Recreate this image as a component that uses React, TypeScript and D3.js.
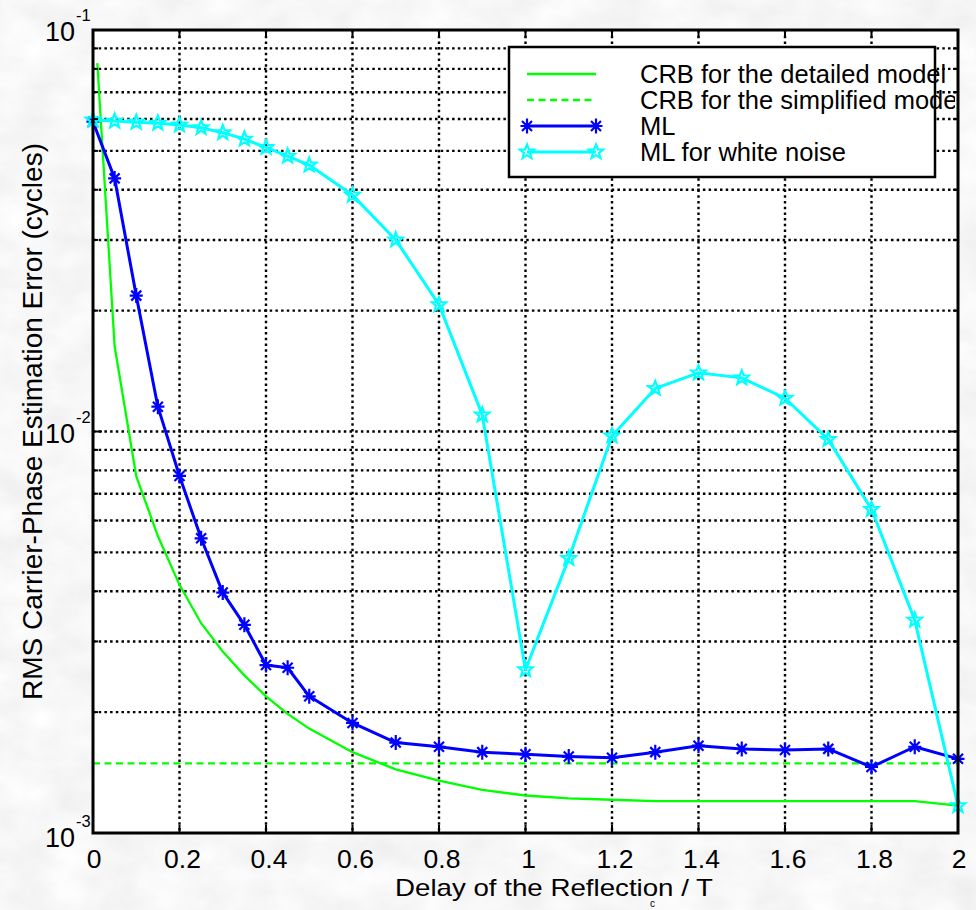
import React from "react";
import * as d3 from "d3";

// ---- data ----
const xGreen = [0.01, 0.05, 0.1, 0.15, 0.2, 0.25, 0.3, 0.35, 0.4, 0.45, 0.5, 0.6, 0.7, 0.8, 0.9, 1.0, 1.1, 1.2, 1.3, 1.4, 1.5, 1.6, 1.7, 1.8, 1.9, 2.0];
const crbDetailed = [0.0827, 0.0163, 0.00774, 0.00549, 0.00415, 0.00333, 0.00283, 0.00247, 0.00219, 0.00198, 0.00182, 0.00159, 0.00144, 0.00135, 0.00128, 0.00124, 0.00122, 0.00121, 0.0012, 0.0012, 0.0012, 0.0012, 0.0012, 0.0012, 0.0012, 0.00117];
const xSimplified = [0, 2];
const crbSimplified = [0.00149, 0.00149];
const xML = [0, 0.05, 0.1, 0.15, 0.2, 0.25, 0.3, 0.35, 0.4, 0.45, 0.5, 0.6, 0.7, 0.8, 0.9, 1.0, 1.1, 1.2, 1.3, 1.4, 1.5, 1.6, 1.7, 1.8, 1.9, 2.0];
const ml = [0.0591, 0.0427, 0.0218, 0.01153, 0.00775, 0.00542, 0.00397, 0.0033, 0.00262, 0.00258, 0.00219, 0.00188, 0.00168, 0.00164, 0.00159, 0.00157, 0.00155, 0.00154, 0.00159, 0.00165, 0.00162, 0.00161, 0.00162, 0.00146, 0.00164, 0.00153];
const mlWhite = [0.0597, 0.0593, 0.0589, 0.0586, 0.058, 0.0571, 0.0555, 0.0535, 0.051, 0.0485, 0.0461, 0.0388, 0.03, 0.0207, 0.011, 0.00255, 0.00483, 0.00975, 0.0128, 0.014, 0.0136, 0.0121, 0.00956, 0.0064, 0.00339, 0.00117];
const xTicks = [0, 0.2, 0.4, 0.6, 0.8, 1, 1.2, 1.4, 1.6, 1.8, 2];
const xTickLabels = ["0", "0.2", "0.4", "0.6", "0.8", "1", "1.2", "1.4", "1.6", "1.8", "2"];
const yDecades = [0.1, 0.01, 0.001];
const yExponents = ["-1", "-2", "-3"];
const legendLabels = [
  "CRB for the detailed model",
  "CRB for the simplified model",
  "ML",
  "ML for white noise",
];

const FONT = "'Liberation Sans', Arial, Helvetica, sans-serif";
const GREEN = "#00ff00";
const BLUE = "#0000ff";
const CYAN = "#00ffff";

const L = 93, R = 958, T = 30, B = 833;

const x = d3.scaleLinear().domain([0, 2]).range([L, R]);
const y = d3.scaleLog().domain([0.001, 0.1]).range([B, T]);

function starPath(cx: number, cy: number, ro = 7.5, ri = 3.2) {
  const pts: string[] = [];
  for (let i = 0; i < 10; i++) {
    const r = i % 2 === 0 ? ro : ri;
    const a = -Math.PI / 2 + (i * Math.PI) / 5;
    pts.push(`${(cx + r * Math.cos(a)).toFixed(2)},${(cy + r * Math.sin(a)).toFixed(2)}`);
  }
  return "M" + pts.join("L") + "Z";
}

function asteriskPath(cx: number, cy: number) {
  return `M${cx},${cy - 7.5}L${cx},${cy + 7.5}M${cx - 6.5},${cy}L${cx + 6.5},${cy}M${cx - 5},${cy - 5}L${cx + 5},${cy + 5}M${cx - 5},${cy + 5}L${cx + 5},${cy - 5}`;
}

export default function App() {
  const line = d3
    .line<[number, number]>()
    .x((d) => x(d[0]))
    .y((d) => y(d[1]));

  const greenPts = xGreen.map((v, i) => [v, crbDetailed[i]] as [number, number]);
  const simpPts = xSimplified.map((v, i) => [v, crbSimplified[i]] as [number, number]);
  const mlPts = xML.map((v, i) => [v, ml[i]] as [number, number]);
  const whitePts = xML.map((v, i) => [v, mlWhite[i]] as [number, number]);

  const yGrid: number[] = [];
  for (const dec of [0.001, 0.01]) {
    for (let k = 1; k <= 9; k++) {
      const v = dec * k;
      if (v > 0.001 && v < 0.1) yGrid.push(v);
    }
  }
  const yMinor: number[] = [];
  for (const dec of [0.001, 0.01]) {
    for (let k = 2; k <= 9; k++) yMinor.push(dec * k);
  }

  const dot = "2.5,3.2";
  const legRowBase = [83, 109, 135, 161];

  return (
    <svg
      width={976}
      height={910}
      style={{ position: "absolute", left: 0, top: 0, display: "block" }}
      fontFamily={FONT}
    >
      <defs>
        <filter id="marble" x="0" y="0" width="100%" height="100%">
          <feTurbulence type="fractalNoise" baseFrequency="0.02 0.03" numOctaves={4} seed={3} />
          <feColorMatrix
            type="matrix"
            values="0.18 0 0 0 0.84  0.18 0 0 0 0.84  0.18 0 0 0 0.84  0 0 0 0 1"
          />
        </filter>
        <clipPath id="legclip">
          <rect x={500} y={40} width={455} height={150} />
        </clipPath>
      </defs>
      <rect x={0} y={0} width={976} height={910} fill="#ececec" />
      <rect x={0} y={0} width={976} height={910} filter="url(#marble)" />

      <rect x={L} y={T} width={R - L} height={B - T} fill="#ffffff" />

      <g stroke="#000" strokeWidth={2.4} strokeDasharray={dot}>
        {xTicks.slice(1, -1).map((t) => (
          <line key={"gx" + t} x1={x(t)} x2={x(t)} y1={T} y2={B} />
        ))}
        {yGrid.map((v) => (
          <line key={"gy" + v} x1={L} x2={R} y1={y(v)} y2={y(v)} />
        ))}
      </g>

      <path d={line(greenPts) || ""} fill="none" stroke={GREEN} strokeWidth={2.3} />
      <path d={line(simpPts) || ""} fill="none" stroke={GREEN} strokeWidth={2.3} strokeDasharray="7,4.5" />
      <path d={line(mlPts) || ""} fill="none" stroke={BLUE} strokeWidth={3} strokeLinejoin="round" />
      {mlPts.map((p, i) => (
        <path key={"a" + i} d={asteriskPath(x(p[0]), y(p[1]))} stroke={BLUE} strokeWidth={2.2} fill="none" />
      ))}
      <path d={line(whitePts) || ""} fill="none" stroke={CYAN} strokeWidth={3} strokeLinejoin="round" />
      {whitePts.map((p, i) => (
        <path key={"s" + i} d={starPath(x(p[0]), y(p[1]))} stroke={CYAN} strokeWidth={2.2} fill="none" />
      ))}

      <rect x={509} y={47} width={426} height={130} fill="#ffffff" stroke="#000" strokeWidth={2.5} />
      <line x1={527} x2={596} y1={legRowBase[0] - 9} y2={legRowBase[0] - 9} stroke={GREEN} strokeWidth={2.3} />
      <line x1={527} x2={596} y1={legRowBase[1] - 9} y2={legRowBase[1] - 9} stroke={GREEN} strokeWidth={2.3} strokeDasharray="7,4.5" />
      <line x1={527} x2={596} y1={legRowBase[2] - 9} y2={legRowBase[2] - 9} stroke={BLUE} strokeWidth={3} />
      <path d={asteriskPath(527, legRowBase[2] - 9)} stroke={BLUE} strokeWidth={2.2} fill="none" />
      <path d={asteriskPath(596, legRowBase[2] - 9)} stroke={BLUE} strokeWidth={2.2} fill="none" />
      <line x1={527} x2={596} y1={legRowBase[3] - 9} y2={legRowBase[3] - 9} stroke={CYAN} strokeWidth={3} />
      <path d={starPath(527, legRowBase[3] - 9)} stroke={CYAN} strokeWidth={2.2} fill="none" />
      <path d={starPath(596, legRowBase[3] - 9)} stroke={CYAN} strokeWidth={2.2} fill="none" />
      <g clipPath="url(#legclip)" fontSize={25.5} fill="#000">
        {legendLabels.map((s, i) => (
          <text key={s} x={640} y={legRowBase[i]}>
            {s}
          </text>
        ))}
      </g>

      <g stroke="#000" strokeWidth={2}>
        {xTicks.map((t) => (
          <g key={"tx" + t}>
            <line x1={x(t)} x2={x(t)} y1={B} y2={B - 8} />
            <line x1={x(t)} x2={x(t)} y1={T} y2={T + 8} />
          </g>
        ))}
        {yMinor.map((v) => (
          <g key={"ty" + v}>
            <line x1={L} x2={L + 5} y1={y(v)} y2={y(v)} />
            <line x1={R} x2={R - 5} y1={y(v)} y2={y(v)} />
          </g>
        ))}
        {yDecades.map((v) => (
          <g key={"tyd" + v}>
            <line x1={L} x2={L + 9} y1={y(v)} y2={y(v)} />
            <line x1={R} x2={R - 9} y1={y(v)} y2={y(v)} />
          </g>
        ))}
      </g>

      <rect x={L} y={T} width={R - L} height={B - T} fill="none" stroke="#000" strokeWidth={3} />

      <g fontSize={26.5} fill="#000" textAnchor="middle">
        {xTicks.map((t, i) => (
          <text key={"xl" + t} x={x(t) + (i === 0 || i === xTicks.length - 1 ? 1 : 3)} y={868}>
            {xTickLabels[i]}
          </text>
        ))}
      </g>

      <g fill="#000">
        {yDecades.map((v, i) => {
          const base = y(v) + (i === 2 ? 14 : 11);
          const supBase = y(v) + (i === 2 ? -6 : -9);
          return (
            <g key={"yl" + v}>
              <text x={75} y={base} fontSize={27} textAnchor="end">
                10
              </text>
              <text x={76} y={supBase} fontSize={16.5}>
                {yExponents[i]}
              </text>
            </g>
          );
        })}
      </g>

      <text x={395} y={896} fontSize={24} fill="#000" textLength={318} lengthAdjust="spacingAndGlyphs">
        Delay of the Reflection / T
      </text>
      <text x={650} y={907} fontSize={10} fill="#000">
        c
      </text>
      <text
        transform={`translate(42,${421.5}) rotate(-90)`}
        textAnchor="middle"
        fontSize={28}
        fill="#000"
      >
        RMS Carrier-Phase Estimation Error (cycles)
      </text>
    </svg>
  );
}
